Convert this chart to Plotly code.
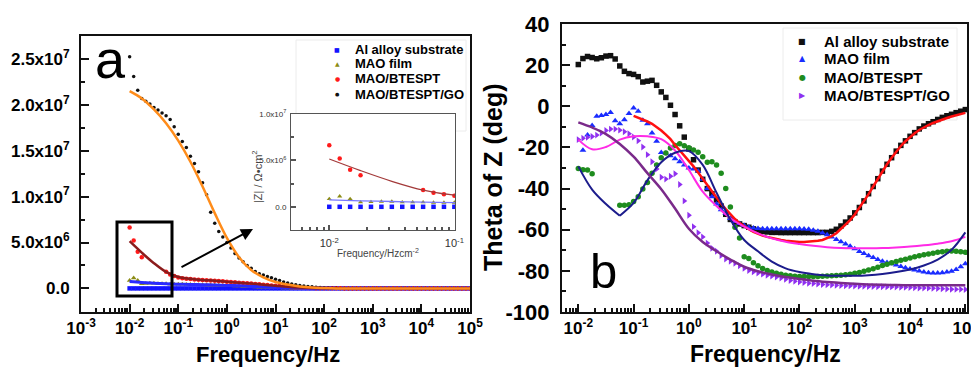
import numpy as np
import plotly.graph_objects as go

FONT = "Liberation Sans, Arial, sans-serif"

# ---------------- frequency grids (Hz) ----------------
freq = 10 ** (np.arange(85) / 12.0 - 2.0)      # measured points, 1e-2 .. 1e5
freq_fit = 10 ** (np.arange(29) / 4.0 - 2.0)   # fitted curves, 1e-2 .. 1e5

# ---------------- panel a : |Z| (units of 1e6 ohm cm2) ----------------
a_al = [0.0] * 85
a_mao = [0.85, 1.13, 0.85, 0.5, 0.53, 0.57, 0.57, 0.5, 0.5, 0.5, 0.46, 0.46,
         0.46, 0.44, 0.43, 0.42, 0.41, 0.4, 0.39, 0.38, 0.37, 0.36, 0.35, 0.33,
         0.31, 0.29, 0.27, 0.25, 0.22, 0.2, 0.18, 0.16, 0.14, 0.12, 0.1, 0.09,
         0.07, 0.06, 0.05, 0.04, 0.03, 0.025, 0.02, 0.015, 0.01, 0.01, 0.005, 0.005,
         0, 0, 0, 0, 0, 0, 0, 0, 0, 0, 0, 0,
         0, 0, 0, 0, 0, 0, 0, 0, 0, 0, 0, 0,
         0, 0, 0, 0, 0, 0, 0, 0, 0, 0, 0, 0, 0]
a_btespt = [6.63, 5.21, 4.0, 3.4, None, None, None, None, None, 1.81, 1.52, 1.35,
            1.2, 1.12, 1.06, 1.02, 0.98, 0.95, 0.92, 0.89, 0.87, 0.84, 0.81, 0.77,
            0.73, 0.7, 0.66, 0.63, 0.6, 0.57, 0.53, 0.49, 0.45, 0.41, 0.37, 0.33,
            0.29, 0.25, 0.21, 0.17, 0.14, 0.11, 0.09, 0.07, 0.05, 0.04, 0.03, 0.025,
            0.02, 0.015, 0.01, 0.01, 0.005, 0, 0, 0, 0, 0, 0, 0,
            0, 0, 0, 0, 0, 0, 0, 0, 0, 0, 0, 0,
            0, 0, 0, 0, 0, 0, 0, 0, 0, 0, 0, 0, 0]
a_go = [25.25, 23.1, 21.6, 20.7, 20.4, 20.1, 19.7, 19.45, 19.1, 18.8, 18.4, 17.6,
        16.8, 16.0, 15.35, 14.4, 13.6, 12.7, 11.5, 10.2, 8.3, 7.1, 6.2, 5.6,
        5.0, 4.4, 3.8, 3.3, 2.9, 2.5, 2.2, 1.85, 1.6, 1.45, 1.3, 1.15,
        1.0, 0.85, 0.7, 0.58, 0.48, 0.4, 0.33, 0.27, 0.22, 0.17, 0.13, 0.1,
        0.07, 0.05, 0.03, 0.02, 0, 0, 0, 0, 0, 0, 0, 0,
        0, 0, 0, 0, 0, 0, 0, 0, 0, 0, 0, 0,
        0, 0, 0, 0, 0, 0, 0, 0, 0, 0, 0, 0, 0]
a_fit_mao = [0.74, 0.64, 0.57, 0.51, 0.46, 0.43, 0.4, 0.37, 0.33,
             0.28, 0.22, 0.16, 0.11, 0.07, 0.04, 0.02, 0.01,
             0, 0, 0, 0, 0, 0, 0, 0, 0, 0, 0, 0]
a_fit_btespt = [5.15, 3.9, 2.75, 1.8, 1.25, 1.05, 0.92, 0.84, 0.73,
                0.63, 0.53, 0.41, 0.29, 0.17, 0.09, 0.04, 0.02,
                0.01, 0, 0, 0, 0, 0, 0, 0, 0, 0, 0, 0]
a_fit_go = [21.5, 20.7, 19.5, 18.0, 16.1, 13.8, 11.1, 8.2, 5.5,
            3.4, 2.0, 1.2, 0.7, 0.42, 0.22, 0.1, 0.04,
            0, 0, 0, 0, 0, 0, 0, 0, 0, 0, 0, 0]

# ---------------- panel b : phase angle (deg) ----------------
b_al = [20.3, 23.2, 24.2, 23.7, 23.1, 23.6, 24.4, 24.6, 23.0, 19.6, 17.0, 15.9,
        15.5, 14.4, 11.8, 12.2, 12.6, 10.2, 7.0, 4.3, 0.5, -4.0, -9.5, -15.0,
        -20.7, -26.0, -31.0, -35.5, -40.0, -42.5, -45.5, -48.5, -52.5, -55.0, -56.3, -57.2,
        -58.0, -58.8, -59.6, -60.3, -60.8, -61.1, -61.3, -61.3, -61.4, -61.4, -61.4, -61.4,
        -61.4, -61.4, -61.4, -61.4, -61.4, -61.3, -61.3, -60.8, -59.8, -58.2, -56.3, -54.3,
        -51.8, -49.2, -46.0, -42.5, -39.0, -35.2, -31.5, -28.2, -25.0, -21.8, -19.0, -16.8,
        -14.6, -12.8, -11.0, -9.6, -8.5, -7.5, -6.4, -5.4, -4.6, -3.9, -3.1, -2.4, -1.6]
b_mao = [None, -21.4, -14.0, -9.4, -4.9, -4.5, -4.0, -3.0, -7.0, -8.5, -6.5, -3.5,
         -0.8, -2.4, -6.8, -8.5, -13.0, -17.0, -22.5, -22.8, -24.0, -25.5, -27.0, -28.5,
         -30.0, -30.5, -31.5, -35.5, -40.0, -44.0, -47.5, -50.3, -52.0, -54.5, -56.0, -57.0,
         -58.0, -58.8, -59.2, -59.4, -59.5, -59.5, -59.5, -59.5, -59.5, -59.5, -59.5, -59.5,
         -59.5, -59.6, -59.8, -60.2, -60.8, -61.6, -62.5, -63.6, -64.7, -65.8, -66.9, -68.0,
         -69.3, -70.6, -71.6, -72.6, -73.5, -74.5, -75.3, -75.9, -76.5, -77.2, -77.9, -78.5,
         -79.1, -79.6, -80.1, -80.5, -80.9, -81.1, -81.1, -80.9, -80.6, -80.2, -79.3, -78.0, -76.5]
b_btespt = [-30.3, -30.8, -31.0, -32.8, None, None, None, None, None, -48.1, -48.1, -47.9,
            -46.3, -44.0, -40.2, -37.0, -32.5, -28.5, -25.0, -22.7, -20.3, -19.1, -18.2, -19.2,
            -20.1, -21.2, -22.3, -24.5, -27.2, -27.0, -28.5, -32.5, -40.0, -49.0, -58.8, -64.0,
            -73.2, -74.0, -76.0, -77.5, -78.8, -79.8, -80.6, -81.2, -81.7, -82.1, -82.4, -82.6,
            -82.7, -82.8, -82.8, -82.8, -82.7, -82.6, -82.5, -82.4, -82.3, -82.1, -81.9, -81.6,
            -81.2, -80.8, -80.2, -79.6, -79.0, -78.2, -77.4, -76.8, -76.1, -75.5, -74.9, -74.3,
            -73.7, -73.2, -72.7, -72.2, -71.8, -71.4, -71.0, -70.7, -70.5, -70.4, -70.5, -70.7, -71.0]
b_go = [-16.2, -15.5, -15.1, -14.7, -14.0, -13.0, -11.8, -11.1, -11.1, -11.6, -12.4, -13.3,
        -14.9, -16.8, -19.8, -23.5, -27.0, -30.5, -34.5, -35.4, -34.0, -32.8, -38.0, -46.0,
        -53.0, -58.5, -61.5, -63.5, -66.5, -69.0, -70.5, -72.5, -74.2, -75.3, -76.3, -77.5,
        -78.8, -79.8, -80.5, -81.1, -81.6, -82.1, -82.5, -83.0, -83.5, -84.1, -84.7, -85.1,
        -85.4, -85.7, -86.0, -86.2, -86.4, -86.6, -86.8, -86.9, -87.0, -87.1, -87.2, -87.3,
        -87.4, -87.5, -87.5, -87.6, -87.6, -87.7, -87.7, -87.8, -87.8, -87.9, -88.0, -88.0,
        -88.1, -88.2, -88.3, -88.3, -88.4, -88.5, -88.6, -88.7, -88.8, -88.9, -89.0, -89.0, -89.1]
b_fit_al = [None] * 12 + [
    -4.7, -5.5, -6.5, -7.4, -8.5, -10.0, -11.8, -13.8, -16.0, -18.8, -21.3, -23.8,
    -26.4, -29.2, -32.2, -35.3, -38.5, -41.6, -44.6, -47.4, -50.0, -52.5, -54.8, -56.8,
    -58.5, -59.8, -61.0, -62.0, -62.9, -63.5, -64.1, -64.6, -65.0, -65.4, -65.7, -65.9,
    -66.0, -66.0, -65.9, -65.7, -65.4, -65.0, -64.2, -63.1, -61.7, -59.7, -57.6, -55.3,
    -52.6, -49.5, -46.2, -42.7, -39.0, -35.3, -31.6, -28.2, -25.0, -22.0, -19.3, -17.0,
    -14.9, -13.1, -11.5, -10.2, -9.1, -8.1, -7.2, -6.4, -5.7, -5.0, -4.4, -3.8, -3.2]
b_fit_mao = [-16.2, -20.9, -19.8, -16.2, -14.6, -14.6, -16.0, -21.5, -31.0,
             -41.5, -48.5, -54.5, -58.5, -61.8, -64.2, -65.8, -66.9,
             -67.8, -68.5, -68.9, -69.0, -69.0, -68.9, -68.6, -68.2, -67.6, -66.8, -65.6, -63.5]
b_fit_btespt = [-29.2, -40.5, -47.5, -53.2, -47.0, -36.0, -27.2, -22.6, -21.8,
                -28.5, -42.0, -55.0, -65.0, -70.5, -75.5, -78.8, -80.6,
                -81.6, -82.2, -82.4, -82.4, -82.1, -81.5, -80.6, -79.3, -77.4, -74.5, -69.8, -61.3]
b_fit_go = [-7.8, -10.3, -13.5, -18.3, -24.5, -32.5, -40.3, -49.7, -59.5,
            -66.0, -70.5, -74.5, -78.0, -80.2, -81.8, -83.0, -84.0,
            -84.8, -85.4, -85.9, -86.3, -86.6, -86.8, -86.9, -87.0, -87.0, -87.0, -87.0, -87.0]

names = ["Al alloy substrate", "MAO film", "MAO/BTESPT", "MAO/BTESPT/GO"]

# ---------------- tick definitions ----------------
dec_a = [10.0 ** e for e in range(-3, 6)]
dec_b = [10.0 ** e for e in range(-2, 6)]
dec_text = lambda decs: ["10<sup>%d</sup>" % round(np.log10(d)) for d in decs]
minor_a = [m * 10.0 ** e for e in range(-3, 5) for m in range(2, 10)]
minor_in = [m * 10.0 ** e for e in (-3, -2) for m in range(2, 10)]
ya_vals = [0, 5e6, 1e7, 1.5e7, 2e7, 2.5e7]
ya_text = ["0.0", "5.0x10<sup>6</sup>", "1.0x10<sup>7</sup>", "1.5x10<sup>7</sup>",
           "2.0x10<sup>7</sup>", "2.5x10<sup>7</sup>"]
yi_vals = [0, 5e6, 1e7]
yi_text = ["0.0", "5.0x10<sup>6</sup>", "1.0x10<sup>7</sup>"]

M = 1e6
sc = lambda v: [None if x is None else x * M for x in v]

fig = go.Figure()

# ---- panel a markers ----
a_cols = ["#1414ff", "#8c8c14", "#ff1a1a", "#111111"]
a_syms = ["square", "triangle-up", "circle", "circle"]
a_size = [4.5, 5, 4.5, 3.5]
for nm, ys, c, s, z in zip(names, [a_al, a_mao, a_btespt, a_go], a_cols, a_syms, a_size):
    fig.add_trace(go.Scatter(x=freq, y=sc(ys), mode="markers", name=nm, showlegend=False,
                             marker=dict(symbol=s, color=c, size=z),
                             xaxis="x", yaxis="y"))
# ---- panel a fits ----
for ys, c, w in zip([a_fit_mao, a_fit_btespt, a_fit_go], ["#2a2aff", "#8b1c1c", "#ff8c1a"], [3, 2.5, 2.5]):
    fig.add_trace(go.Scatter(x=freq_fit, y=sc(ys), mode="lines", showlegend=False,
                             line=dict(color=c, width=w, shape="spline"),
                             xaxis="x", yaxis="y"))

# ---- inset ----
for ys, c, s in zip([a_al, a_mao, a_btespt], a_cols[:3], a_syms[:3]):
    fig.add_trace(go.Scatter(x=freq[:13], y=sc(ys[:13]), mode="markers", showlegend=False,
                             marker=dict(symbol=s, color=c, size=4.5),
                             xaxis="x3", yaxis="y3"))
for ys, c in zip([a_fit_mao, a_fit_btespt], ["#7878ff", "#a33a3a"]):
    fig.add_trace(go.Scatter(x=freq_fit[:6], y=sc(ys[:6]), mode="lines", showlegend=False,
                             line=dict(color=c, width=1.3, shape="spline"),
                             xaxis="x3", yaxis="y3"))

# ---- panel b markers ----
b_cols = ["#111111", "#1a2cff", "#1e8c1e", "#9030f0"]
b_syms = ["square", "triangle-up", "circle", "triangle-right"]
b_size = [5.5, 6, 5.5, 6]
for nm, ys, c, s, z in zip(names, [b_al, b_mao, b_btespt, b_go], b_cols, b_syms, b_size):
    fig.add_trace(go.Scatter(x=freq, y=ys, mode="markers", name=nm, showlegend=False,
                             marker=dict(symbol=s, color=c, size=z),
                             xaxis="x2", yaxis="y2"))
# ---- panel b fits ----
fig.add_trace(go.Scatter(x=freq, y=b_fit_al, mode="lines", showlegend=False,
                         line=dict(color="#ff1010", width=2.5), xaxis="x2", yaxis="y2"))
fig.add_trace(go.Scatter(x=freq_fit, y=b_fit_mao, mode="lines", showlegend=False,
                         line=dict(color="#ff2ae6", width=2, shape="spline"), xaxis="x2", yaxis="y2"))
fig.add_trace(go.Scatter(x=freq_fit[:4], y=b_fit_btespt[:4], mode="lines", showlegend=False,
                         line=dict(color="#1c1c8c", width=2, shape="spline"), xaxis="x2", yaxis="y2"))
fig.add_trace(go.Scatter(x=freq_fit[3:], y=b_fit_btespt[3:], mode="lines", showlegend=False,
                         line=dict(color="#1c1c8c", width=2, shape="spline"), xaxis="x2", yaxis="y2"))
fig.add_trace(go.Scatter(x=freq_fit, y=b_fit_go, mode="lines", showlegend=False,
                         line=dict(color="#7a2a8a", width=2.5, shape="spline"), xaxis="x2", yaxis="y2"))


def axis(domain, anchor, rng, tickvals, ticktext, size, minor, ltype="linear",
         lw=2, color="#111", ticklen=8, standoff=3, weight="bold", fcolor="black"):
    return dict(domain=domain, anchor=anchor, type=ltype, range=rng, automargin=False,
                tickmode="array", tickvals=tickvals, ticktext=ticktext,
                ticks="inside", ticklen=ticklen, tickwidth=1.5, tickcolor=color,
                showline=True, linecolor=color, linewidth=lw, mirror=True,
                showgrid=False, zeroline=False, ticklabelstandoff=standoff,
                tickfont=dict(family=FONT, size=size, weight=weight, color=fcolor),
                minor=minor)


# page is shown with an 8px body margin: map page pixels -> figure paper coords
OFF = 8
W, H = 979 - OFF, 368 - OFF
px = lambda v: (v - OFF) / W
py = lambda v: 1 - (v - OFF) / H

fig.update_layout(
    width=W, height=H, margin=dict(l=0, r=0, t=0, b=0, autoexpand=False),
    paper_bgcolor="white", plot_bgcolor="white", showlegend=False,
    font=dict(family=FONT, color="black"),
    xaxis=axis([px(81), px(470)], "y", [-3, 5], dec_a, dec_text(dec_a), 17,
               dict(tickmode="array", tickvals=minor_a, ticks="inside", ticklen=4,
                    tickcolor="#111", showgrid=False), ltype="log", standoff=0),
    yaxis=axis([py(312), py(36)], "x", [-2.57e6, 2.75e7], ya_vals, ya_text, 17,
               dict(dtick=2.5e6, tick0=0, ticks="inside", ticklen=4, tickcolor="#111",
                    showgrid=False), standoff=6),
    xaxis2=axis([px(562), px(967)], "y2", [-2.295, 5.03], dec_b, dec_text(dec_b), 17,
                dict(tickmode="array", tickvals=minor_a, ticks="inside", ticklen=4,
                     tickcolor="#111", showgrid=False), ltype="log", standoff=0),
    yaxis2=axis([py(312), py(24)], "x2", [-100, 40], list(range(-100, 41, 20)),
                [str(v) for v in range(-100, 41, 20)], 22,
                dict(dtick=10, tick0=0, ticks="inside", ticklen=4, tickcolor="#111",
                     showgrid=False), standoff=6),
    xaxis3=axis([px(291), px(455)], "y3", [-2.306, -0.995], [0.01, 0.1],
                ["10<sup>-2</sup>", "10<sup>-1</sup>"], 11,
                dict(tickmode="array", tickvals=minor_in, ticks="inside", ticklen=3,
                     tickcolor="#555", showgrid=False), ltype="log", lw=1, color="#555",
                ticklen=5, standoff=3, weight="normal", fcolor="#333"),
    yaxis3=axis([py(230), py(114)], "x3", [-2.5e6, 1e7], yi_vals, yi_text, 8,
                dict(dtick=2.5e6, tick0=0, ticks="inside", ticklen=3, tickcolor="#555",
                     showgrid=False), lw=1, color="#555", ticklen=5, standoff=2,
                weight="normal", fcolor="#333"),
)

shapes = [
    dict(type="rect", xref="paper", yref="paper", x0=px(117), x1=px(172), y0=py(296), y1=py(222),
         line=dict(color="black", width=3)),
    dict(type="rect", xref="paper", yref="paper", x0=px(296), x1=px(466), y0=py(131), y1=py(40),
         line=dict(color="#ececec", width=1), layer="below"),
    dict(type="rect", xref="paper", yref="paper", x0=px(783), x1=px(957), y0=py(120), y1=py(28),
         line=dict(color="#ececec", width=1), layer="below"),
]
fig.update_layout(shapes=shapes)

ann = [
    dict(text="a", x=px(110), y=py(59), font=dict(size=54, family=FONT, color="black")),
    dict(text="b", x=px(603), y=py(271), font=dict(size=49, family=FONT, color="black")),
    dict(text="<b>Frequency/Hz</b>", x=px(268), y=py(354), font=dict(size=22, family=FONT)),
    dict(text="<b>Frequency/Hz</b>", x=px(765), y=py(354), font=dict(size=23, family=FONT)),
    dict(text="<b>Theta of Z (deg)</b>", x=px(493), y=py(178), textangle=-90,
         font=dict(size=25, family=FONT)),
    dict(text="|Z| / \u03a9\u2022cm<sup>2</sup>", x=px(257), y=py(177), textangle=-90,
         font=dict(size=11, family=FONT, color="#444")),
    dict(text="Frequency/Hzcm<sup>-2</sup>", x=px(378), y=py(253),
         font=dict(size=10, family=FONT, color="#444")),
]
for a in ann:
    a.update(xref="paper", yref="paper", showarrow=False, xanchor="center", yanchor="middle")

# ---- legends (drawn as text rows) ----
leg_a_glyph = ["\u25a0", "\u25b2", "\u25cf", "\u25cf"]
leg_b_glyph = ["\u25a0", "\u25b2", "\u25cf", "\u25b6"]
leg_a_rows = [49, 63.5, 78.5, 94]
leg_b_rows = [41, 59, 77, 95]
for nm, g, c, yy, gs in zip(names, leg_a_glyph, a_cols, leg_a_rows, [6, 6, 6, 5]):
    ann.append(dict(text=g, x=px(337), y=py(yy), xanchor="center", yanchor="middle",
                    font=dict(size=gs, family="DejaVu Sans", color=c)))
    ann.append(dict(text="<b>%s</b>" % nm, x=px(353), y=py(yy), xanchor="left", yanchor="middle",
                    font=dict(size=13, family=FONT, color="black")))
for nm, g, c, yy in zip(names, leg_b_glyph, b_cols, leg_b_rows):
    ann.append(dict(text=g, x=px(802), y=py(yy), xanchor="center", yanchor="middle",
                    font=dict(size=8, family="DejaVu Sans", color=c)))
    ann.append(dict(text="<b>%s</b>" % nm, x=px(822), y=py(yy), xanchor="left", yanchor="middle",
                    font=dict(size=15, family=FONT, color="black")))
for a in ann:
    a.setdefault("xref", "paper")
    a.setdefault("yref", "paper")
    a.setdefault("showarrow", False)

ann.append(dict(text="", x=px(253), y=py(229), xref="paper", yref="paper", ax=-73, ay=39,
                showarrow=True, arrowhead=2, arrowsize=1.2, arrowwidth=2, arrowcolor="black"))
fig.update_layout(annotations=ann)

fig.write_html("out.html")
